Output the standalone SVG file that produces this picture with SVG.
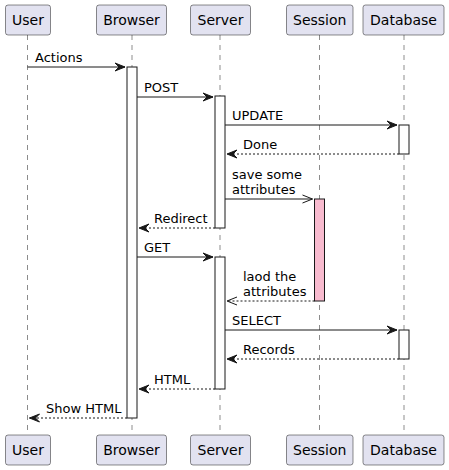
<svg xmlns="http://www.w3.org/2000/svg" width="449" height="470" viewBox="0 0 449 470">
<defs>
<style>
.p{fill:#E2E2F0;stroke:#181818;stroke-width:0.5;}
.pt{font-family:"DejaVu Sans",sans-serif;font-size:14px;fill:#000;text-anchor:middle;}
.ll{stroke:#181818;stroke-width:0.5;stroke-dasharray:5,5;fill:none;}
.act{fill:#FFFFFF;stroke:#181818;stroke-width:1;}
.m{stroke:#181818;stroke-width:1;fill:none;}
.r{stroke:#181818;stroke-width:1;fill:none;stroke-dasharray:2,2;}
.ah{fill:#181818;stroke:#181818;stroke-width:1;}
.t{font-family:"DejaVu Sans",sans-serif;font-size:13px;fill:#000;}
</style>
</defs>
<rect width="449" height="470" fill="#FFFFFF"/>
<g id="lifelines">
<line class="ll" x1="27.5" y1="35" x2="27.5" y2="435"/>
<line class="ll" x1="132" y1="35" x2="132" y2="435"/>
<line class="ll" x1="220" y1="35" x2="220" y2="435"/>
<line class="ll" x1="319.5" y1="35" x2="319.5" y2="435"/>
<line class="ll" x1="404" y1="35" x2="404" y2="435"/>
</g>
<g id="User">
<rect class="p" x="5.5" y="5" width="45" height="30" rx="2.5"/>
<text class="pt" x="28" y="25">User</text>
<rect class="p" x="5.5" y="435" width="45" height="30" rx="2.5"/>
<text class="pt" x="28" y="455">User</text>
</g>
<g id="Browser">
<rect class="p" x="96.5" y="5" width="70" height="30" rx="2.5"/>
<text class="pt" x="131.5" y="25">Browser</text>
<rect class="p" x="96.5" y="435" width="70" height="30" rx="2.5"/>
<text class="pt" x="131.5" y="455">Browser</text>
<rect class="act" x="127" y="67" width="10" height="351"/>
</g>
<g id="Server">
<rect class="p" x="190.5" y="5" width="60" height="30" rx="2.5"/>
<text class="pt" x="220.5" y="25">Server</text>
<rect class="p" x="190.5" y="435" width="60" height="30" rx="2.5"/>
<text class="pt" x="220.5" y="455">Server</text>
<rect class="act" x="215" y="96" width="10" height="132"/>
<rect class="act" x="215" y="257" width="10" height="132"/>
</g>
<g id="Session">
<rect class="p" x="286.5" y="5" width="66.5" height="30" rx="2.5"/>
<text class="pt" x="319.75" y="25">Session</text>
<rect class="p" x="286.5" y="435" width="66.5" height="30" rx="2.5"/>
<text class="pt" x="319.75" y="455">Session</text>
<rect x="314.5" y="199" width="10" height="102" fill="#F8BBCF" stroke="#181818" stroke-width="1"/>
</g>
<g id="Database">
<rect class="p" x="363" y="5" width="81" height="30" rx="2.5"/>
<text class="pt" x="403.5" y="25">Database</text>
<rect class="p" x="363" y="435" width="81" height="30" rx="2.5"/>
<text class="pt" x="403.5" y="455">Database</text>
<rect class="act" x="399" y="125" width="10" height="29"/>
<rect class="act" x="399" y="330" width="10" height="29"/>
</g>
<g id="connectors">
<!-- Actions -->
<line class="m" x1="27.5" y1="67" x2="125" y2="67"/>
<polygon class="ah" points="115,63 125,67 115,71 119,67"/>
<text class="t" x="35" y="62">Actions</text>
<!-- POST -->
<line class="m" x1="137" y1="97" x2="213" y2="97"/>
<polygon class="ah" points="203,93 213,97 203,101 207,97"/>
<text class="t" x="144" y="92">POST</text>
<!-- UPDATE -->
<line class="m" x1="225" y1="125" x2="397" y2="125"/>
<polygon class="ah" points="387,121 397,125 387,129 391,125"/>
<text class="t" x="232" y="120">UPDATE</text>
<!-- Done -->
<line class="r" x1="399" y1="154" x2="227" y2="154"/>
<polygon class="ah" points="237,150 227,154 237,158 233,154"/>
<text class="t" x="243" y="149">Done</text>
<!-- save some attributes -->
<line class="m" x1="225" y1="199" x2="312.5" y2="199"/>
<polyline class="m" points="302.5,195 312.5,199 302.5,203"/>
<text class="t" x="232" y="179">save some</text>
<text class="t" x="232" y="194">attributes</text>
<!-- Redirect -->
<line class="r" x1="215" y1="228" x2="139" y2="228"/>
<polygon class="ah" points="149,224 139,228 149,232 145,228"/>
<text class="t" x="154" y="223">Redirect</text>
<!-- GET -->
<line class="m" x1="137" y1="257" x2="213" y2="257"/>
<polygon class="ah" points="203,253 213,257 203,261 207,257"/>
<text class="t" x="144" y="252">GET</text>
<!-- laod the attributes -->
<line class="r" x1="314.5" y1="301" x2="227" y2="301"/>
<polyline class="m" points="237,297 227,301 237,305"/>
<text class="t" x="243" y="281">laod the</text>
<text class="t" x="243" y="296">attributes</text>
<!-- SELECT -->
<line class="m" x1="225" y1="330" x2="397" y2="330"/>
<polygon class="ah" points="387,326 397,330 387,334 391,330"/>
<text class="t" x="232" y="325">SELECT</text>
<!-- Records -->
<line class="r" x1="399" y1="359" x2="227" y2="359"/>
<polygon class="ah" points="237,355 227,359 237,363 233,359"/>
<text class="t" x="243" y="354">Records</text>
<!-- HTML -->
<line class="r" x1="215" y1="389" x2="139" y2="389"/>
<polygon class="ah" points="149,385 139,389 149,393 145,389"/>
<text class="t" x="154" y="384">HTML</text>
<!-- Show HTML -->
<line class="r" x1="127" y1="418" x2="29.5" y2="418"/>
<polygon class="ah" points="39.5,414 29.5,418 39.5,422 35.5,418"/>
<text class="t" x="46" y="413">Show HTML</text>
</g>
</svg>
